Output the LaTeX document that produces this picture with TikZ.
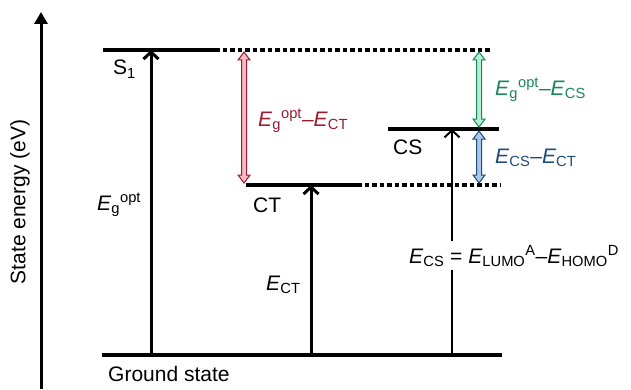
\documentclass[tikz,border=0pt]{standalone}
\usepackage{fontspec}
\setmainfont{Liberation Sans}
\usetikzlibrary{arrows.meta,positioning}
\definecolor{gapred}{HTML}{9B1B30}
\definecolor{gapredfill}{HTML}{F5B9C2}
\definecolor{gapgreen}{HTML}{17875A}
\definecolor{gapgreenfill}{HTML}{B8EDD2}
\definecolor{gapblue}{HTML}{1F4A7A}
\definecolor{gapbluefill}{HTML}{A8C8EA}
% hollow double arrow: x, top, bottom, style
\newcommand{\gaparrow}[4]{%
  \draw[#4] (#1,#2) -- ++(6,-8) -- ++(-3.5,0) -- (#1+2.5,#3+8) -- ++(3.5,0)
    -- (#1,#3) -- ++(-6,8) -- ++(3.5,0) -- (#1-2.5,#2-8) -- ++(-3.5,0) -- cycle;}

\begin{document}
\begin{tikzpicture}[x=1pt,y=1pt,
    lvl/.style={line width=4pt},
    lvldot/.style={line width=4pt, dash pattern=on 4.5pt off 3pt},
    up/.style={line width=3pt, -{Straight Barb[length=7pt,width=15pt]}},
    lbl/.style={inner sep=0pt, anchor=base west, font=\fontsize{21}{25}\selectfont}]
  \useasboundingbox (0,0) rectangle (631,389);

  % energy axis
  \draw[line width=3pt,-{Triangle[length=12pt,width=13pt]}] (41,0) -- (41,377);
  \node[rotate=90, font=\fontsize{21}{25}\selectfont] (axis) at (20,187) {State energy (eV)};

  % levels
  \draw[lvl] (102,34) -- (502,34);
  \draw[lvl] (103,339) -- (215,339);
  \draw[lvldot] (215,339) -- (492,339);
  \draw[lvl] (246,204) -- (357,204);
  \draw[lvldot] (357,204) -- (500,204);
  \draw[lvl] (388,260) -- (499,260);

  % transitions
  \draw[up] (151,34) -- (151,339);
  \draw[up] (311,34) -- (311,204);
  \draw[up, line width=2pt] (452,34) -- (452,260);

  % energy gaps
  \gaparrow{244}{337}{206}{draw=gapred, fill=gapredfill, line width=1pt}
  \gaparrow{479}{337}{262}{draw=gapgreen, fill=gapgreenfill, line width=1pt}
  \gaparrow{479}{258}{206}{draw=gapblue, fill=gapbluefill, line width=1pt}

  % labels
  \node[lbl] (gs) at (108,8) {Ground state};
  \node[lbl] (s1) at (113,314) {S\textsubscript{1}};
  \node[lbl] (ct) at (253,177) {CT};
  \node[lbl] (cs) at (393,235) {CS};
  \node[lbl] (eg) at (97,179) {\textit{E}\textsubscript{g}\textsuperscript{opt}};
  \node[lbl] (ect) at (266,99) {\textit{E}\textsubscript{CT}};
  \node[lbl, fill=white, inner ysep=4pt] (ecs) at (409,126)
    {\textit{E}\textsubscript{CS} = \textit{E}\textsubscript{LUMO}\textsuperscript{A}--\textit{E}\textsubscript{HOMO}\textsuperscript{D}};
  \node[lbl, text=gapred] (dred) at (258,263)
    {\textit{E}\textsubscript{g}\textsuperscript{opt}--\textit{E}\textsubscript{CT}};
  \node[lbl, text=gapgreen] (dgreen) at (495,294)
    {\textit{E}\textsubscript{g}\textsuperscript{opt}--\textit{E}\textsubscript{CS}};
  \node[lbl, text=gapblue] (dblue) at (495,226)
    {\textit{E}\textsubscript{CS}--\textit{E}\textsubscript{CT}};
\end{tikzpicture}
\end{document}
